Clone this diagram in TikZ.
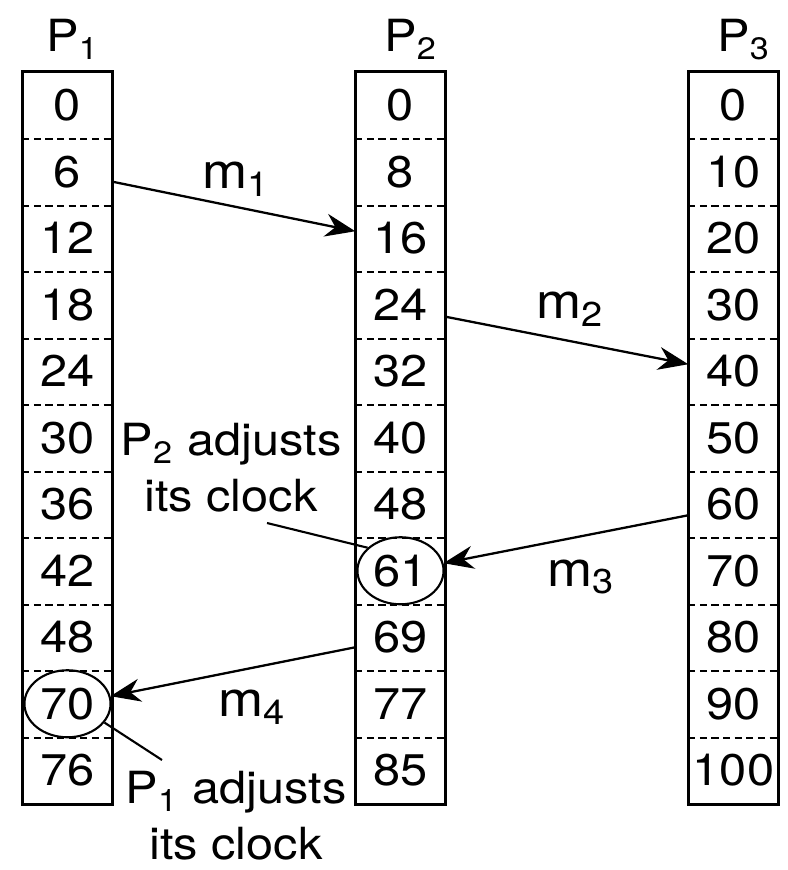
\documentclass[tikz,border=0pt]{standalone}
\usepackage{fontspec}
\setmainfont[FakeStretch=1.1]{TeX Gyre Heros}
\usepackage{tikz}
\usetikzlibrary{arrows.meta, positioning, shapes.geometric}

\begin{document}
\begin{tikzpicture}[
  x=0.01cm, y=-0.01cm,
  every node/.style={font=\fontsize{12.6}{16}\selectfont},
  cell/.style={minimum width=0.89cm, minimum height=0.665cm, inner sep=0pt},
  column/.style={draw, line width=0.8pt},
  sep/.style={line width=0.65pt, dash pattern=on 2pt off 1.3pt},
  stamp/.style={draw, ellipse, line width=0.6pt, minimum width=0.86cm, minimum height=0.67cm, inner sep=0pt},
  arrow/.style={-{Stealth[length=3mm, width=2.3mm]}, line width=0.65pt},
  msg/.style={font=\fontsize{14}{16}\selectfont},
  note/.style={align=center, inner sep=1pt},
  lead/.style={line width=0.6pt}
]
  \useasboundingbox (0,0) rectangle (787,870);

  % Prozesse
  \node[anchor=base] (p1) at (73,52) {P\textsubscript{1}};
  \node[anchor=base] (p2) at (411,52) {P\textsubscript{2}};
  \node[anchor=base] (p3) at (744,52) {P\textsubscript{3}};

  % Uhrwerte (3 Spalten)
  \foreach \v [count=\i from 0] in {0,6,12,18,24,30,36,42,48,70,76}
    \node[cell] (a\i) at (67.5,{105.25+66.5*\i}) {\v};
  \foreach \v [count=\i from 0] in {0,8,16,24,32,40,48,61,69,77,85}
    \node[cell] (b\i) at (400.5,{105.25+66.5*\i}) {\v};
  \foreach \v [count=\i from 0] in {0,10,20,30,40,50,60,70,80,90,100}
    \node[cell] (c\i) at (733.5,{105.25+66.5*\i}) {\v};

  \draw[column] (a0.north west) rectangle (a10.south east);
  \draw[column] (b0.north west) rectangle (b10.south east);
  \draw[column] (c0.north west) rectangle (c10.south east);
  \foreach \i in {0,...,9} {
    \draw[sep] (a\i.south west) -- (a\i.south east);
    \draw[sep] (b\i.south west) -- (b\i.south east);
    \draw[sep] (c\i.south west) -- (c\i.south east);
  }

  % korrigierte Werte
  \node[stamp] (e1) at (a9) {};
  \node[stamp] (e2) at (b7) {};

  % Nachrichten
  \draw[arrow] ([yshift=-0.10cm]a1.east) -- ([yshift=0.07cm]b2.west);
  \draw[arrow] ([yshift=-0.12cm]b3.east) -- ([yshift=0.07cm]c4.west);
  \draw[arrow] ([yshift=-0.11cm]c6.west) -- (e2.10);
  \draw[arrow] ([yshift=-0.10cm]b8.west) -- (e1.10);

  \node[msg] (m1) at (236,179) {m\textsubscript{1}};
  \node[msg] (m2) at (570,309) {m\textsubscript{2}};
  \node[msg] (m3) at (581,577) {m\textsubscript{3}};
  \node[msg] (m4) at (252,707) {m\textsubscript{4}};

  % Anmerkungen
  \node[note] (t2) at (231,468) {P\textsubscript{2} adjusts\\its clock};
  \node[note] (t1) at (236,816) {P\textsubscript{1} adjusts\\its clock};
  \coordinate (k2) at (267,523);
  \coordinate (k1) at (162,760);
  \draw[lead] (k2) -- (e2.145);
  \draw[lead] (e1.-27) -- (k1);

\end{tikzpicture}
\end{document}
